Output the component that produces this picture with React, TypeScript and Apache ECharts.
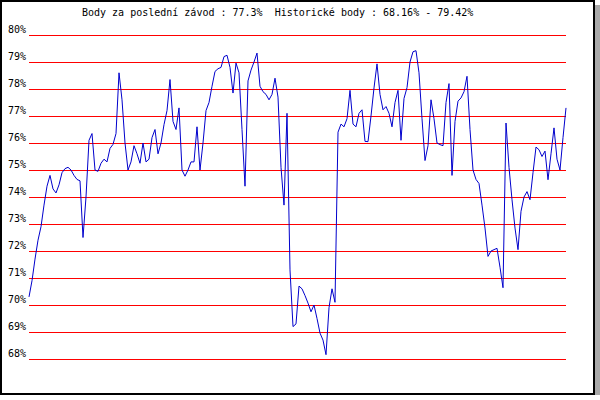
import React, { useEffect, useRef } from 'react'
import * as echarts from 'echarts'

/*==================================================================
    DATA
==================================================================*/
const LAST_SCORE = 77.3
const HIST_MIN = 68.16
const HIST_MAX = 79.42

// body za jednotlivé závody (v %)
const scores: number[] = [
  70.3, 70.9, 71.7, 72.4, 72.9, 73.7, 74.4, 74.8, 74.3, 74.15,
  74.45, 74.9, 75.05, 75.1, 75.0, 74.8, 74.65, 74.6, 72.5, 74.0,
  76.1, 76.35, 75.0, 74.95, 75.25, 75.4, 75.3, 75.8, 75.95, 76.35,
  78.6, 77.6, 76.0, 75.0, 75.3, 75.9, 75.6, 75.25, 76.0, 75.3,
  75.4, 76.2, 76.5, 75.6, 76.0,
  76.68, 77.2, 78.35, 76.8, 76.5, 77.3, 75.0, 74.77, 75.0, 75.3,
  75.3, 76.6, 75.0, 76.0, 77.2, 77.5, 78.1, 78.65, 78.75, 78.8,
  79.2, 79.25, 78.8, 77.85, 78.96, 78.6, 76.5, 74.4, 78.3, 78.7,
  79.0, 79.33, 78.1, 77.9, 77.8, 77.6, 77.8, 78.4, 77.7, 75.1,
  73.7, 77.1, 71.3, 69.2, 69.3,
  70.7, 70.6, 70.35, 70.07, 69.75, 70.0, 69.5, 68.96, 68.7, 68.16,
  69.9, 70.6, 70.1, 76.4, 76.7, 76.6, 76.9, 77.95, 76.7, 76.6,
  77.1, 77.23, 76.06, 76.05, 77.0, 78.04, 78.93, 77.8, 77.23, 77.35,
  77.1, 76.6, 77.5, 77.95, 76.1, 77.65, 78.05, 79.0, 79.38, 79.42,
  78.6, 76.9, 75.35, 75.9,
  77.6, 76.9, 76.0, 75.94, 75.9, 77.5, 78.2, 74.8, 76.8, 77.55,
  77.67, 77.9, 78.47, 76.5, 75.0, 74.65, 74.5, 73.7, 72.85, 71.8,
  72.0, 72.05, 72.1, 71.4, 70.64, 76.74, 75.1, 73.9, 72.85, 72.05,
  73.47, 74.0, 74.2, 73.9, 74.9, 75.85, 75.75, 75.5, 75.7, 74.64,
  75.6, 76.56, 75.4, 75.0, 76.2, 77.3,
]

const races: string[] = scores.map((_, i) => String(i + 1))

const Y_MIN = 68
const Y_MAX = 80
const Y_STEP = 1

/*==================================================================
    APP
==================================================================*/
export default function App() {
  const ref = useRef<HTMLDivElement>(null)

  useEffect(() => {
    document.body.style.margin = '0'
    if (!ref.current) return
    const chart = echarts.init(ref.current, undefined, { renderer: 'svg' })
    const mono = 'DejaVu Sans Mono'

    chart.setOption({
      animation: false,
      title: {
        text: `Body za poslední závod : ${LAST_SCORE}%\u00a0 Historické body : ${HIST_MIN}% - ${HIST_MAX}%`,
        left: 80,
        top: 5,
        padding: 0,
        textStyle: { fontFamily: mono, fontSize: 10, fontWeight: 'normal', color: '#000' },
      },
      grid: { left: 27, right: 27, top: 33, bottom: 34 },
      xAxis: {
        type: 'category',
        data: races,
        boundaryGap: false,
        show: false,
      },
      yAxis: {
        type: 'value',
        min: Y_MIN,
        max: Y_MAX,
        interval: Y_STEP,
        axisLine: { show: false },
        axisTick: { show: false },
        axisLabel: {
          formatter: '{value}%',
          margin: 3,
          verticalAlign: 'bottom',
          padding: [0, 0, 1, 0],
          fontFamily: mono,
          fontSize: 10,
          color: '#000',
        },
        splitLine: { lineStyle: { color: '#ff0000', width: 1 } },
      },
      series: [{
        type: 'line',
        data: scores,
        symbol: 'none',
        lineStyle: { color: '#0000cc', width: 1 },
      }],
    })

    return () => chart.dispose()
  }, [])

  return (
    <div style={{ width: 595, height: 395, boxSizing: 'border-box', border: '2px solid #000', boxShadow: '5px 5px 0 #a9a9a9', background: '#fff' }}>
      <div ref={ref} style={{ width: 591, height: 391 }} />
    </div>
  )
}
